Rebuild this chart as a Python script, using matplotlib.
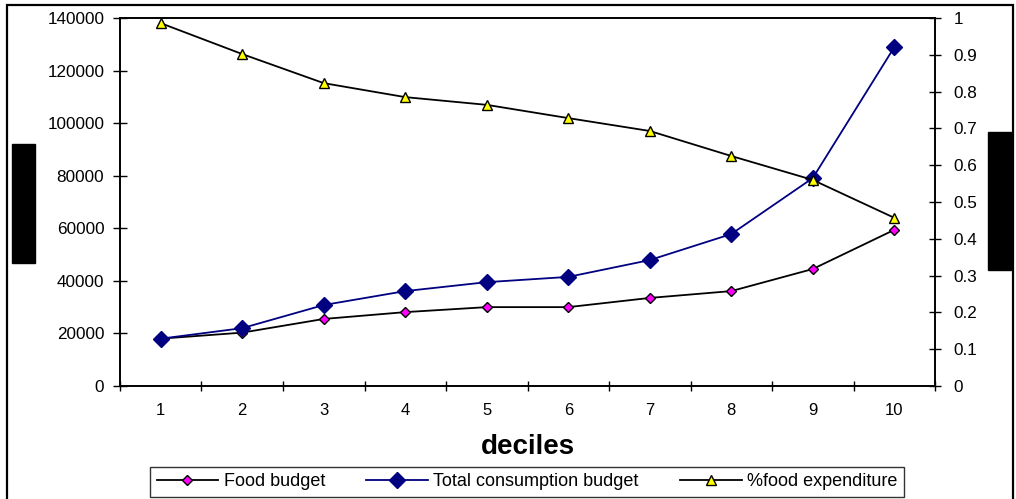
import matplotlib.pyplot as plt
from matplotlib.patches import Rectangle
from matplotlib.lines import Line2D

plt.rcParams['font.family'] = ['Liberation Sans', 'DejaVu Sans']

deciles = [1, 2, 3, 4, 5, 6, 7, 8, 9, 10]
food_budget = [18000, 20300, 25500, 28100, 30000, 30000, 33500, 36100, 44500, 59400]
total_budget = [18000, 22000, 30800, 36100, 39500, 41500, 47900, 57800, 79100, 128900]
food_share = [0.986, 0.902, 0.823, 0.785, 0.764, 0.728, 0.693, 0.625, 0.560, 0.457]

fig = plt.figure(figsize=(10.16, 4.99), dpi=100)
ax = fig.add_axes([0.1181, 0.2265, 0.8022, 0.7374])
ax2 = ax.twinx()

# outer chart frame
fig.patches.append(Rectangle((7 / 1016, -0.05), 1006 / 1016, 0.05 + 494 / 499,
                             transform=fig.transFigure, fill=False, ec='black', lw=1.6))

ax.plot(deciles, food_budget, color='black', lw=1.3, marker='D', ms=5,
        mfc='#ff00ff', mec='black', mew=1.0, zorder=3)
ax.plot(deciles, total_budget, color='#000080', lw=1.3, marker='D', ms=8.5,
        mfc='#000080', mec='#000080', zorder=3)
ax2.plot(deciles, food_share, color='black', lw=1.3, marker='^', ms=6.5,
         mfc='#ffff00', mec='black', mew=1.0, zorder=3)

ax.set_xlim(0.5, 10.5)
ax.set_ylim(0, 140000)
ax2.set_ylim(0, 1)
ax.set_yticks(range(0, 140001, 20000))
ax2.set_yticks([i / 10 for i in range(11)])
ax2.set_yticklabels(['0', '0.1', '0.2', '0.3', '0.4', '0.5', '0.6', '0.7', '0.8', '0.9', '1'])

# category ticks sit between deciles, labels at the centres
ax.set_xticks([i + 0.5 for i in range(0, 11)])
ax.set_xticks(deciles, minor=True)
ax.set_xticklabels([])
ax.set_xticklabels([str(d) for d in deciles], minor=True)
ax.tick_params(axis='x', which='major', direction='inout', length=7, width=1)
ax.tick_params(axis='x', which='minor', length=0, pad=12, labelsize=12)
ax.tick_params(axis='y', direction='inout', length=9.5, width=1, labelsize=12.3, pad=6.5)
ax2.tick_params(axis='y', direction='inout', length=8, width=1, labelsize=12.3, pad=9.5)

for a in (ax, ax2):
    for s in a.spines.values():
        s.set_linewidth(1.2)

ax.set_xlabel('deciles', fontsize=20, fontweight='bold', labelpad=12)

handles = [
    Line2D([], [], color='black', lw=1.3, marker='D', ms=5, mfc='#ff00ff', mec='black'),
    Line2D([], [], color='#000080', lw=1.3, marker='D', ms=8.5, mfc='#000080', mec='#000080'),
    Line2D([], [], color='black', lw=1.3, marker='^', ms=6.5, mfc='#ffff00', mec='black'),
]
labels = ['Food budget', 'Total consumption budget', '%food expenditure']
leg = fig.legend(handles, labels, loc='center', bbox_to_anchor=(527 / 1016, 1 - 482 / 499),
                 ncol=3, fontsize=13, frameon=True, fancybox=False, borderpad=0.35,
                 handlelength=3.4, columnspacing=2.3, handletextpad=0.3, borderaxespad=0)
leg.get_frame().set_edgecolor('black')
leg.get_frame().set_linewidth(1.0)

# blacked-out axis titles
fig.patches.append(Rectangle((12 / 1016, 1 - 263 / 499), 23 / 1016, 119 / 499,
                             transform=fig.transFigure, color='black'))
fig.patches.append(Rectangle((988 / 1016, 1 - 270 / 499), 23 / 1016, 138 / 499,
                             transform=fig.transFigure, color='black'))

fig.savefig('out.png', dpi=100)
